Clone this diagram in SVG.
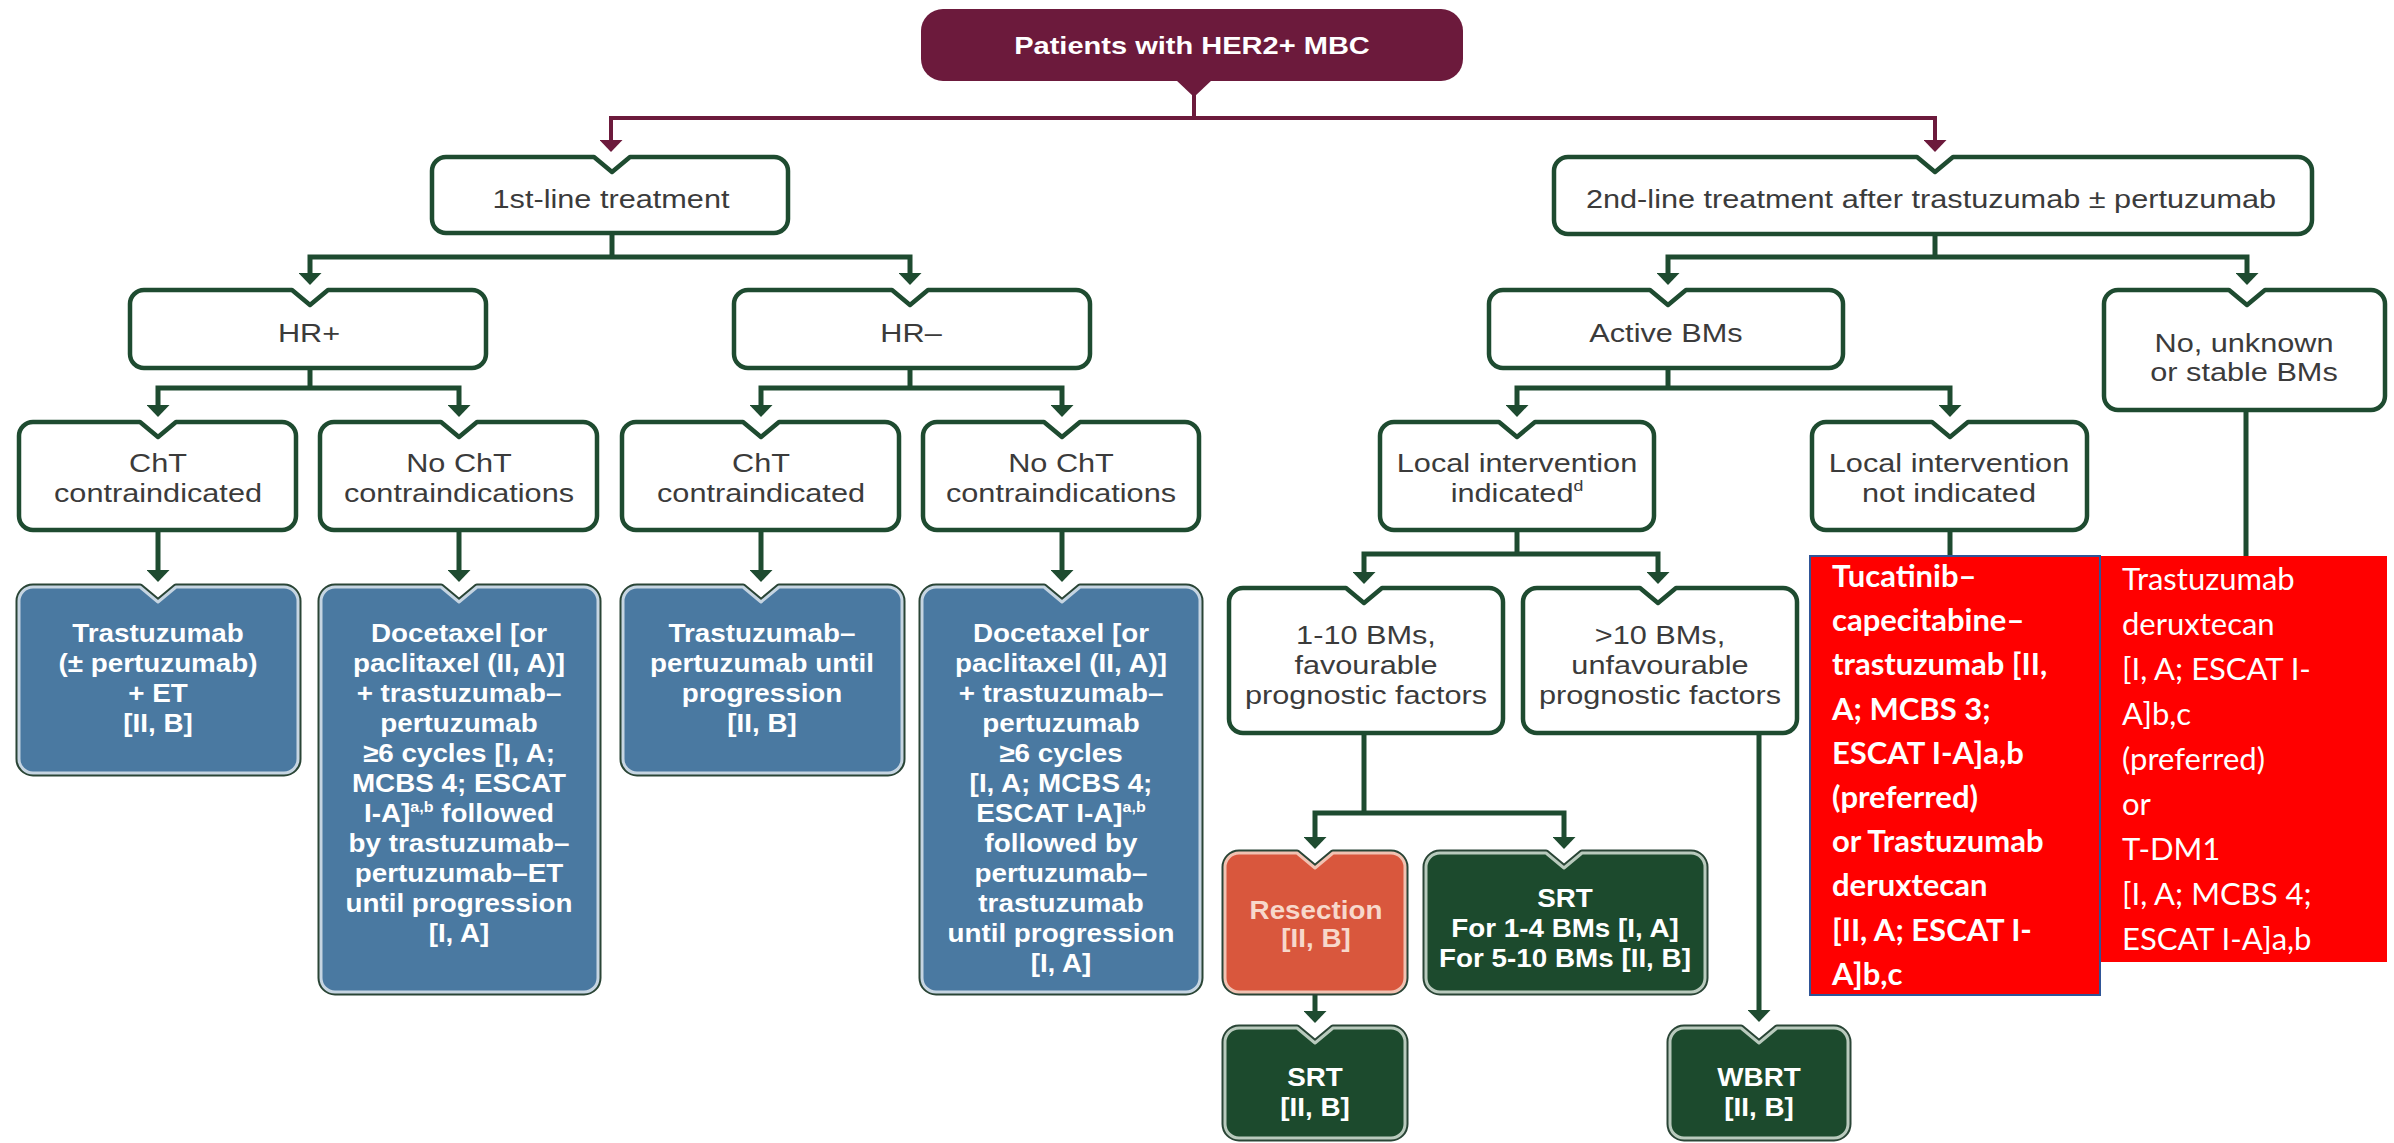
<svg xmlns="http://www.w3.org/2000/svg" width="2394" height="1143" viewBox="0 0 2394 1143">
<defs>
<style>
.wb{fill:#fff;stroke:#1e4b30;stroke-width:4.5;stroke-linejoin:round}
.dk{fill:none;stroke:#2a4536;stroke-width:7;stroke-linejoin:round}
.fb{fill:#4a79a1;stroke:#c6d5e2;stroke-width:3;stroke-linejoin:round}
.fo{fill:#d9573d;stroke:#f1c2b2;stroke-width:3;stroke-linejoin:round}
.fg{fill:#1c4a2d;stroke:#b9cabd;stroke-width:3;stroke-linejoin:round}
.c{fill:none;stroke:#1e4b30;stroke-width:5}
.cm{fill:none;stroke:#6c1a3c;stroke-width:4}
.a2{marker-start:url(#ag);marker-end:url(#ag)}
.a1{marker-end:url(#ag)}
.m2{marker-start:url(#am);marker-end:url(#am)}
.lb{font-family:'Liberation Sans',Arial,sans-serif;font-size:26px;fill:#3b3b3b;text-anchor:middle}
.wt{font-family:'Liberation Sans',Arial,sans-serif;font-size:26px;font-weight:bold;fill:#fff;text-anchor:middle}
.pk{fill:#f7d8cb}
.tt{font-family:'Liberation Sans',Arial,sans-serif;font-size:24px;font-weight:bold;fill:#fff;text-anchor:middle}
.rt{font-family:Lato,'Liberation Sans',sans-serif;font-size:31px;fill:#fff}
.rb{font-weight:bold}
.sup{font-size:15px}
</style>
<marker id="ag" viewBox="0 0 12 23" refX="0" refY="11.5" markerWidth="12" markerHeight="23" markerUnits="userSpaceOnUse" orient="auto-start-reverse"><path d="M0 0L12 11.5L0 23Z" fill="#1e4b30"/></marker>
<marker id="am" viewBox="0 0 12 23" refX="0" refY="11.5" markerWidth="12" markerHeight="23" markerUnits="userSpaceOnUse" orient="auto-start-reverse"><path d="M0 0L12 11.5L0 23Z" fill="#6c1a3c"/></marker>
</defs>
<rect width="2394" height="1143" fill="#fff"/>

<g id="connectors">
<path class="cm" d="M1194 95V118"/>
<path class="cm m2" d="M611 140V118H1935V140"/>
<path class="c" d="M612 233V257"/>
<path class="c a2" d="M310 273V257H910V273"/>
<path class="c" d="M1935 234V257"/>
<path class="c a2" d="M1668 273V257H2247V273"/>
<path class="c" d="M310 368V388"/>
<path class="c a2" d="M158 405V388H459V405"/>
<path class="c" d="M910 368V388"/>
<path class="c a2" d="M761 405V388H1062V405"/>
<path class="c" d="M1668 368V388"/>
<path class="c a2" d="M1517 405V388H1950V405"/>
<path class="c" d="M2246 410V556"/>
<path class="c a1" d="M158 530V570"/>
<path class="c a1" d="M459 530V570"/>
<path class="c a1" d="M761 530V570"/>
<path class="c a1" d="M1062 530V570"/>
<path class="c" d="M1517 530V554"/>
<path class="c a2" d="M1364 572V554H1658V572"/>
<path class="c" d="M1950 530V556"/>
<path class="c" d="M1364 733V813"/>
<path class="c a2" d="M1315 837V813H1564V837"/>
<path class="c a1" d="M1759 733V1010"/>
<path class="c a1" d="M1315 992V1011"/>
</g>

<g id="n-title">
<rect x="921" y="9" width="542" height="72" rx="22" fill="#6c1a3c"/>
<path d="M1176 80L1194 97L1212 80Z" fill="#6c1a3c"/>
<text class="tt" transform="translate(1192 54) scale(1.21 1)">Patients with HER2+ MBC</text>
</g>

<g id="n-first">
<path class="wb" d="M446 157H594L612 172L630 157H774A14 14 0 0 1 788 171V219A14 14 0 0 1 774 233H446A14 14 0 0 1 432 219V171A14 14 0 0 1 446 157Z"/>
<text class="lb" transform="translate(611 208) scale(1.18 1)">1st-line treatment</text>
</g>

<g id="n-second">
<path class="wb" d="M1568 157H1917L1935 172L1953 157H2298A14 14 0 0 1 2312 171V220A14 14 0 0 1 2298 234H1568A14 14 0 0 1 1554 220V171A14 14 0 0 1 1568 157Z"/>
<text class="lb" transform="translate(1931 208) scale(1.18 1)">2nd-line treatment after trastuzumab ± pertuzumab</text>
</g>

<g id="n-hrpos">
<path class="wb" d="M144 290H292L310 305L328 290H472A14 14 0 0 1 486 304V354A14 14 0 0 1 472 368H144A14 14 0 0 1 130 354V304A14 14 0 0 1 144 290Z"/>
<text class="lb" transform="translate(309 342) scale(1.18 1)">HR+</text>
</g>

<g id="n-hrneg">
<path class="wb" d="M748 290H892L910 305L928 290H1076A14 14 0 0 1 1090 304V354A14 14 0 0 1 1076 368H748A14 14 0 0 1 734 354V304A14 14 0 0 1 748 290Z"/>
<text class="lb" transform="translate(911 342) scale(1.18 1)">HR–</text>
</g>

<g id="n-active">
<path class="wb" d="M1503 290H1650L1668 305L1686 290H1829A14 14 0 0 1 1843 304V354A14 14 0 0 1 1829 368H1503A14 14 0 0 1 1489 354V304A14 14 0 0 1 1503 290Z"/>
<text class="lb" transform="translate(1666 342) scale(1.18 1)">Active BMs</text>
</g>

<g id="n-stable">
<path class="wb" d="M2118 290H2229L2247 305L2265 290H2371A14 14 0 0 1 2385 304V396A14 14 0 0 1 2371 410H2118A14 14 0 0 1 2104 396V304A14 14 0 0 1 2118 290Z"/>
<text class="lb" transform="translate(2244 0) scale(1.18 1)"><tspan x="0" y="352">No, unknown</tspan><tspan x="0" y="381">or stable BMs</tspan></text>
</g>

<g id="n-cht1">
<path class="wb" d="M33 422H140L158 437L176 422H282A14 14 0 0 1 296 436V516A14 14 0 0 1 282 530H33A14 14 0 0 1 19 516V436A14 14 0 0 1 33 422Z"/>
<text class="lb" transform="translate(158 0) scale(1.18 1)"><tspan x="0" y="472">ChT</tspan><tspan x="0" y="502">contraindicated</tspan></text>
</g>

<g id="n-nocht1">
<path class="wb" d="M334 422H441L459 437L477 422H583A14 14 0 0 1 597 436V516A14 14 0 0 1 583 530H334A14 14 0 0 1 320 516V436A14 14 0 0 1 334 422Z"/>
<text class="lb" transform="translate(459 0) scale(1.18 1)"><tspan x="0" y="472">No ChT</tspan><tspan x="0" y="502">contraindications</tspan></text>
</g>

<g id="n-cht2">
<path class="wb" d="M636 422H743L761 437L779 422H885A14 14 0 0 1 899 436V516A14 14 0 0 1 885 530H636A14 14 0 0 1 622 516V436A14 14 0 0 1 636 422Z"/>
<text class="lb" transform="translate(761 0) scale(1.18 1)"><tspan x="0" y="472">ChT</tspan><tspan x="0" y="502">contraindicated</tspan></text>
</g>

<g id="n-nocht2">
<path class="wb" d="M937 422H1044L1062 437L1080 422H1185A14 14 0 0 1 1199 436V516A14 14 0 0 1 1185 530H937A14 14 0 0 1 923 516V436A14 14 0 0 1 937 422Z"/>
<text class="lb" transform="translate(1061 0) scale(1.18 1)"><tspan x="0" y="472">No ChT</tspan><tspan x="0" y="502">contraindications</tspan></text>
</g>

<g id="n-localyes">
<path class="wb" d="M1394 422H1499L1517 437L1535 422H1640A14 14 0 0 1 1654 436V516A14 14 0 0 1 1640 530H1394A14 14 0 0 1 1380 516V436A14 14 0 0 1 1394 422Z"/>
<text class="lb" transform="translate(1517 0) scale(1.18 1)"><tspan x="0" y="472">Local intervention</tspan><tspan x="0" y="502">indicated<tspan class="sup" dy="-11">d</tspan></tspan></text>
</g>

<g id="n-localno">
<path class="wb" d="M1826 422H1932L1950 437L1968 422H2073A14 14 0 0 1 2087 436V516A14 14 0 0 1 2073 530H1826A14 14 0 0 1 1812 516V436A14 14 0 0 1 1826 422Z"/>
<text class="lb" transform="translate(1949 0) scale(1.18 1)"><tspan x="0" y="472">Local intervention</tspan><tspan x="0" y="502">not indicated</tspan></text>
</g>

<g id="n-b1">
<path class="dk" d="M33 587H140L158 602L176 587H284A14 14 0 0 1 298 601V759A14 14 0 0 1 284 773H33A14 14 0 0 1 19 759V601A14 14 0 0 1 33 587Z"/>
<path class="fb" d="M33 587H140L158 602L176 587H284A14 14 0 0 1 298 601V759A14 14 0 0 1 284 773H33A14 14 0 0 1 19 759V601A14 14 0 0 1 33 587Z"/>
<text class="wt" transform="translate(158 0) scale(1.07 1)"><tspan x="0" y="642">Trastuzumab</tspan><tspan x="0" y="672">(± pertuzumab)</tspan><tspan x="0" y="702">+ ET</tspan><tspan x="0" y="732">[II, B]</tspan></text>
</g>

<g id="n-b2">
<path class="dk" d="M335 587H441L459 602L477 587H584A14 14 0 0 1 598 601V978A14 14 0 0 1 584 992H335A14 14 0 0 1 321 978V601A14 14 0 0 1 335 587Z"/>
<path class="fb" d="M335 587H441L459 602L477 587H584A14 14 0 0 1 598 601V978A14 14 0 0 1 584 992H335A14 14 0 0 1 321 978V601A14 14 0 0 1 335 587Z"/>
<text class="wt" transform="translate(459 0) scale(1.07 1)"><tspan x="0" y="642">Docetaxel [or</tspan><tspan x="0" y="672">paclitaxel (II, A)]</tspan><tspan x="0" y="702">+ trastuzumab–</tspan><tspan x="0" y="732">pertuzumab</tspan><tspan x="0" y="762">≥6 cycles [I, A;</tspan><tspan x="0" y="792">MCBS 4; ESCAT</tspan><tspan x="0" y="822">I-A]<tspan class="sup" dy="-10">a,b</tspan><tspan dy="10"> followed</tspan></tspan><tspan x="0" y="852">by trastuzumab–</tspan><tspan x="0" y="882">pertuzumab–ET</tspan><tspan x="0" y="912">until progression</tspan><tspan x="0" y="942">[I, A]</tspan></text>
</g>

<g id="n-b3">
<path class="dk" d="M637 587H743L761 602L779 587H888A14 14 0 0 1 902 601V759A14 14 0 0 1 888 773H637A14 14 0 0 1 623 759V601A14 14 0 0 1 637 587Z"/>
<path class="fb" d="M637 587H743L761 602L779 587H888A14 14 0 0 1 902 601V759A14 14 0 0 1 888 773H637A14 14 0 0 1 623 759V601A14 14 0 0 1 637 587Z"/>
<text class="wt" transform="translate(762 0) scale(1.07 1)"><tspan x="0" y="642">Trastuzumab–</tspan><tspan x="0" y="672">pertuzumab until</tspan><tspan x="0" y="702">progression</tspan><tspan x="0" y="732">[II, B]</tspan></text>
</g>

<g id="n-b4">
<path class="dk" d="M936 587H1044L1062 602L1080 587H1186A14 14 0 0 1 1200 601V978A14 14 0 0 1 1186 992H936A14 14 0 0 1 922 978V601A14 14 0 0 1 936 587Z"/>
<path class="fb" d="M936 587H1044L1062 602L1080 587H1186A14 14 0 0 1 1200 601V978A14 14 0 0 1 1186 992H936A14 14 0 0 1 922 978V601A14 14 0 0 1 936 587Z"/>
<text class="wt" transform="translate(1061 0) scale(1.07 1)"><tspan x="0" y="642">Docetaxel [or</tspan><tspan x="0" y="672">paclitaxel (II, A)]</tspan><tspan x="0" y="702">+ trastuzumab–</tspan><tspan x="0" y="732">pertuzumab</tspan><tspan x="0" y="762">≥6 cycles</tspan><tspan x="0" y="792">[I, A; MCBS 4;</tspan><tspan x="0" y="822">ESCAT I-A]<tspan class="sup" dy="-10">a,b</tspan></tspan><tspan x="0" y="852">followed by</tspan><tspan x="0" y="882">pertuzumab–</tspan><tspan x="0" y="912">trastuzumab</tspan><tspan x="0" y="942">until progression</tspan><tspan x="0" y="972">[I, A]</tspan></text>
</g>

<g id="n-bm110">
<path class="wb" d="M1243 588H1346L1364 603L1382 588H1489A14 14 0 0 1 1503 602V719A14 14 0 0 1 1489 733H1243A14 14 0 0 1 1229 719V602A14 14 0 0 1 1243 588Z"/>
<text class="lb" transform="translate(1366 0) scale(1.18 1)"><tspan x="0" y="644">1-10 BMs,</tspan><tspan x="0" y="674">favourable</tspan><tspan x="0" y="704">prognostic factors</tspan></text>
</g>

<g id="n-bm10">
<path class="wb" d="M1537 588H1640L1658 603L1676 588H1783A14 14 0 0 1 1797 602V719A14 14 0 0 1 1783 733H1537A14 14 0 0 1 1523 719V602A14 14 0 0 1 1537 588Z"/>
<text class="lb" transform="translate(1660 0) scale(1.18 1)"><tspan x="0" y="644">&gt;10 BMs,</tspan><tspan x="0" y="674">unfavourable</tspan><tspan x="0" y="704">prognostic factors</tspan></text>
</g>

<g id="n-resection">
<path class="dk" d="M1239 853H1297L1315 868L1333 853H1391A14 14 0 0 1 1405 867V978A14 14 0 0 1 1391 992H1239A14 14 0 0 1 1225 978V867A14 14 0 0 1 1239 853Z"/>
<path class="fo" d="M1239 853H1297L1315 868L1333 853H1391A14 14 0 0 1 1405 867V978A14 14 0 0 1 1391 992H1239A14 14 0 0 1 1225 978V867A14 14 0 0 1 1239 853Z"/>
<text class="wt pk" transform="translate(1316 0) scale(1.07 1)"><tspan x="0" y="919">Resection</tspan><tspan x="0" y="947">[II, B]</tspan></text>
</g>

<g id="n-srt1">
<path class="dk" d="M1440 853H1546L1564 868L1582 853H1691A14 14 0 0 1 1705 867V978A14 14 0 0 1 1691 992H1440A14 14 0 0 1 1426 978V867A14 14 0 0 1 1440 853Z"/>
<path class="fg" d="M1440 853H1546L1564 868L1582 853H1691A14 14 0 0 1 1705 867V978A14 14 0 0 1 1691 992H1440A14 14 0 0 1 1426 978V867A14 14 0 0 1 1440 853Z"/>
<text class="wt" transform="translate(1565 0) scale(1.07 1)"><tspan x="0" y="907">SRT</tspan><tspan x="0" y="937">For 1-4 BMs [I, A]</tspan><tspan x="0" y="967">For 5-10 BMs [II, B]</tspan></text>
</g>

<g id="n-srt2">
<path class="dk" d="M1239 1028H1297L1315 1043L1333 1028H1391A14 14 0 0 1 1405 1042V1124A14 14 0 0 1 1391 1138H1239A14 14 0 0 1 1225 1124V1042A14 14 0 0 1 1239 1028Z"/>
<path class="fg" d="M1239 1028H1297L1315 1043L1333 1028H1391A14 14 0 0 1 1405 1042V1124A14 14 0 0 1 1391 1138H1239A14 14 0 0 1 1225 1124V1042A14 14 0 0 1 1239 1028Z"/>
<text class="wt" transform="translate(1315 0) scale(1.07 1)"><tspan x="0" y="1086">SRT</tspan><tspan x="0" y="1116">[II, B]</tspan></text>
</g>

<g id="n-wbrt">
<path class="dk" d="M1684 1028H1741L1759 1043L1777 1028H1834A14 14 0 0 1 1848 1042V1124A14 14 0 0 1 1834 1138H1684A14 14 0 0 1 1670 1124V1042A14 14 0 0 1 1684 1028Z"/>
<path class="fg" d="M1684 1028H1741L1759 1043L1777 1028H1834A14 14 0 0 1 1848 1042V1124A14 14 0 0 1 1834 1138H1684A14 14 0 0 1 1670 1124V1042A14 14 0 0 1 1684 1028Z"/>
<text class="wt" transform="translate(1759 0) scale(1.07 1)"><tspan x="0" y="1086">WBRT</tspan><tspan x="0" y="1116">[II, B]</tspan></text>
</g>

<g id="n-tucatinib">
<rect x="1810" y="556" width="290" height="439" fill="#ff0000" stroke="#2f5597" stroke-width="2"/>
<text class="rt rb"><tspan x="1832" y="587">Tucatinib–</tspan><tspan x="1832" y="631">capecitabine–</tspan><tspan x="1832" y="675">trastuzumab [II,</tspan><tspan x="1832" y="720">A; MCBS 3;</tspan><tspan x="1832" y="764">ESCAT I-A]a,b</tspan><tspan x="1832" y="808">(preferred)</tspan><tspan x="1832" y="852">or Trastuzumab</tspan><tspan x="1832" y="896">deruxtecan</tspan><tspan x="1832" y="941">[II, A; ESCAT I-</tspan><tspan x="1832" y="985">A]b,c</tspan></text>
</g>

<g id="n-tdxd">
<rect x="2101" y="556" width="286" height="406" fill="#ff0000"/>
<text class="rt"><tspan x="2122" y="590">Trastuzumab</tspan><tspan x="2122" y="635">deruxtecan</tspan><tspan x="2122" y="680">[I, A; ESCAT I-</tspan><tspan x="2122" y="725">A]b,c</tspan><tspan x="2122" y="770">(preferred)</tspan><tspan x="2122" y="815">or</tspan><tspan x="2122" y="860">T-DM1</tspan><tspan x="2122" y="905">[I, A; MCBS 4;</tspan><tspan x="2122" y="950">ESCAT I-A]a,b</tspan></text>
</g>
</svg>
